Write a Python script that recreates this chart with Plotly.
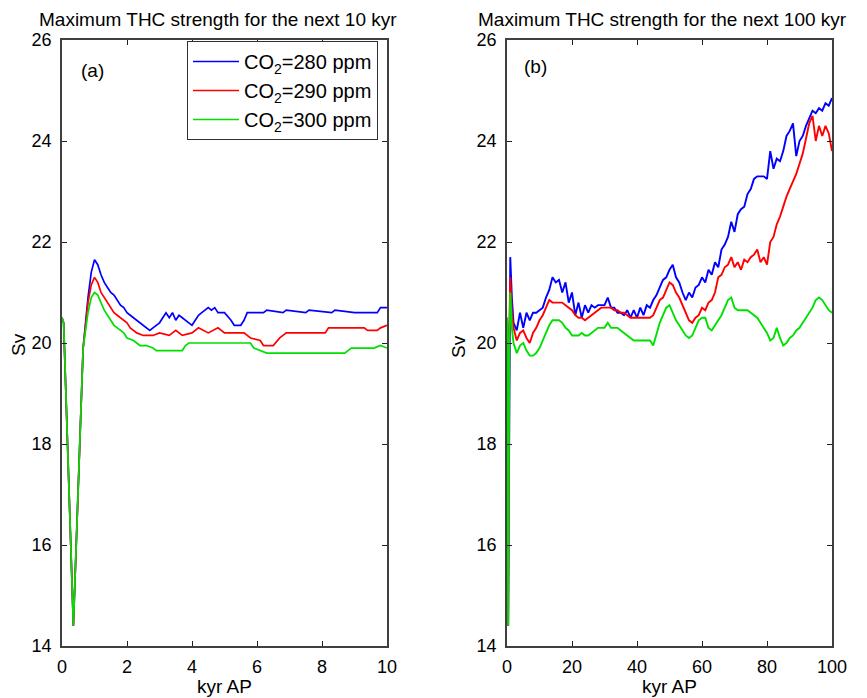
import plotly.graph_objects as go

# ---------------- data ----------------
series_names = ["CO<sub>2</sub>=280 ppm", "CO<sub>2</sub>=290 ppm", "CO<sub>2</sub>=300 ppm"]
series_colors = ["#0000ff", "#ff0000", "#00e000"]

# panel (a): next 10 kyr (breakpoints)
a_blue_x = [0, 0.05, 0.35, 0.65, 0.8, 0.9, 1.0, 1.1, 1.2, 1.3, 1.4, 1.5, 1.6, 1.7, 1.8, 1.9, 2.0,
            2.1, 2.2, 2.3, 2.4, 2.5, 2.6, 2.7, 2.8, 2.9, 3.0, 3.1, 3.2, 3.3, 3.4, 3.5, 3.6, 3.7,
            3.8, 3.9, 4.0, 4.1, 4.2, 4.3, 4.4, 4.5, 4.6, 4.7, 4.8, 4.9, 5.0, 5.2, 5.3, 5.5, 5.6,
            5.7, 6.2, 6.3, 6.8, 6.9, 7.5, 7.6, 8.3, 8.4, 8.9, 9.0, 9.7, 9.8, 10.0]
a_blue_y = [20.5, 20.4, 14.4, 19.9, 20.9, 21.4, 21.65, 21.55, 21.35, 21.2, 21.1, 21.0, 20.95, 20.85,
            20.75, 20.7, 20.6, 20.55, 20.5, 20.45, 20.4, 20.35, 20.3, 20.25, 20.3, 20.35, 20.4, 20.5,
            20.6, 20.5, 20.6, 20.45, 20.55, 20.5, 20.45, 20.4, 20.35, 20.45, 20.55, 20.6, 20.65,
            20.7, 20.65, 20.7, 20.6, 20.6, 20.6, 20.45, 20.35, 20.35, 20.45, 20.6, 20.6, 20.65,
            20.6, 20.65, 20.6, 20.65, 20.6, 20.65, 20.6, 20.6, 20.6, 20.7, 20.7]

a_red_x = [0, 0.05, 0.35, 0.65, 0.8, 0.9, 1.0, 1.1, 1.2, 1.3, 1.4, 1.5, 1.6, 1.7, 1.8, 1.9, 2.0,
           2.1, 2.2, 2.3, 2.5, 2.8, 3.0, 3.3, 3.5, 3.7, 4.0, 4.2, 4.5, 4.8, 5.0, 5.6, 5.8, 6.1,
           6.2, 6.5, 6.7, 6.9, 8.1, 8.2, 9.3, 9.4, 9.7, 9.8, 10.0]
a_red_y = [20.5, 20.4, 14.4, 19.9, 20.8, 21.15, 21.3, 21.2, 21.0, 20.9, 20.8, 20.7, 20.6, 20.55,
           20.5, 20.45, 20.4, 20.3, 20.25, 20.2, 20.15, 20.15, 20.2, 20.15, 20.25, 20.15, 20.2,
           20.3, 20.2, 20.3, 20.2, 20.2, 20.1, 20.05, 19.95, 19.95, 20.1, 20.2, 20.2, 20.3,
           20.3, 20.25, 20.25, 20.3, 20.35]

a_green_x = [0, 0.05, 0.35, 0.65, 0.8, 0.9, 1.0, 1.1, 1.2, 1.3, 1.4, 1.5, 1.6, 1.7, 1.8, 1.9, 2.0,
             2.2, 2.4, 2.6, 2.8, 2.9, 3.7, 3.8, 3.9, 5.8, 5.9, 6.3, 8.7, 8.9, 9.6, 9.8, 10.0]
a_green_y = [20.5, 20.4, 14.4, 19.9, 20.6, 20.9, 21.0, 20.95, 20.8, 20.65, 20.55, 20.45, 20.35,
             20.3, 20.25, 20.2, 20.1, 20.05, 19.95, 19.95, 19.9, 19.85, 19.85, 19.95, 20.0, 20.0,
             19.9, 19.8, 19.8, 19.9, 19.9, 19.95, 19.9]

# panel (b): next 100 kyr
b_x = [0, 0.1, 0.35, 0.7, 1.0, 1.5] + list(range(2, 101))
b_blue_y = [20.5, 20.3, 14.4, 20.3, 21.7, 20.9,
            20.4, 20.25, 20.6, 20.3, 20.6, 20.45, 20.6, 20.6, 20.65, 20.7, 20.9, 21.05, 21.3,
            21.2, 21.25, 21.0, 21.2, 20.8, 21.0, 20.55, 20.8, 20.5, 20.75, 20.6, 20.75, 20.7,
            20.75, 20.75, 20.75, 20.9, 20.7, 20.7, 20.6, 20.6, 20.55, 20.65, 20.5, 20.65, 20.5,
            20.7, 20.55, 20.75, 20.7, 20.85, 20.95, 21.1, 21.25, 21.3, 21.45, 21.55, 21.3, 21.2,
            21.0, 20.85, 21.0, 20.9, 21.1, 21.15, 21.3, 21.2, 21.45, 21.35, 21.6, 21.5, 21.85,
            21.95, 22.1, 22.4, 22.2, 22.55, 22.65, 22.7, 22.95, 23.05, 23.25, 23.3, 23.3, 23.3,
            23.25, 23.8, 23.45, 23.65, 23.6, 23.8, 24.1, 24.2, 24.35, 23.7, 24.0, 24.1, 24.3,
            24.45, 24.6, 24.55, 24.65, 24.6, 24.75, 24.7, 24.85]
b_red_y = [20.5, 20.3, 14.4, 20.2, 21.3, 20.6,
           20.3, 20.05, 20.2, 20.25, 20.1, 20.0, 20.2, 20.3, 20.45, 20.55, 20.7, 20.85, 20.8,
           20.8, 20.8, 20.8, 20.75, 20.7, 20.65, 20.55, 20.5, 20.5, 20.45, 20.5, 20.55, 20.6,
           20.65, 20.7, 20.7, 20.7, 20.7, 20.65, 20.65, 20.6, 20.6, 20.55, 20.5, 20.5, 20.5,
           20.5, 20.5, 20.5, 20.5, 20.55, 20.7, 20.85, 20.9, 21.05, 21.2, 21.15, 21.0, 20.9,
           20.75, 20.6, 20.45, 20.4, 20.5, 20.55, 20.7, 20.65, 20.8, 20.85, 21.0, 21.3, 21.35,
           21.5, 21.55, 21.7, 21.5, 21.6, 21.45, 21.65, 21.6, 21.7, 21.75, 21.85, 21.6, 21.7,
           21.55, 22.0, 22.1, 22.35, 22.5, 22.7, 22.9, 23.05, 23.2, 23.35, 23.55, 23.75, 24.05,
           24.35, 24.5, 24.0, 24.3, 24.1, 24.3, 24.15, 23.8]
b_green_y = [20.5, 20.3, 14.4, 20.0, 21.0, 20.3,
             20.0, 19.8, 19.95, 20.0, 19.85, 19.75, 19.75, 19.8, 19.9, 20.05, 20.2, 20.35, 20.45,
             20.45, 20.45, 20.4, 20.3, 20.25, 20.15, 20.15, 20.15, 20.2, 20.15, 20.15, 20.2,
             20.25, 20.3, 20.3, 20.3, 20.4, 20.3, 20.3, 20.3, 20.25, 20.2, 20.15, 20.1, 20.05,
             20.05, 20.05, 20.05, 20.05, 20.05, 19.95, 20.2, 20.4, 20.55, 20.7, 20.75, 20.6,
             20.45, 20.35, 20.25, 20.15, 20.1, 20.15, 20.3, 20.45, 20.5, 20.5, 20.3, 20.25,
             20.35, 20.45, 20.55, 20.7, 20.85, 20.9, 20.7, 20.65, 20.65, 20.65, 20.65, 20.6,
             20.55, 20.5, 20.4, 20.3, 20.2, 20.05, 20.1, 20.3, 20.1, 19.95, 20.0, 20.1, 20.15,
             20.25, 20.3, 20.4, 20.5, 20.6, 20.7, 20.85, 20.9, 20.85, 20.75, 20.65, 20.6]

titles = ["Maximum THC strength for the next 10 kyr", "Maximum THC strength for the next 100 kyr"]
panel_labels = ["(a)", "(b)"]
x_title = "kyr AP"
y_title = "Sv"

# ---------------- figure ----------------
PAGE_W, PAGE_H = 867, 698
OFF = 8                      # default body margin of the html page
W, H = PAGE_W - OFF, PAGE_H - OFF
FONT = "Liberation Sans, Arial, Helvetica, sans-serif"

def px_x(p):
    return (p - OFF) / W

def px_y(p):
    return 1 - (p - OFF) / H

fig = go.Figure()

a_sets = [(a_blue_x, a_blue_y), (a_red_x, a_red_y), (a_green_x, a_green_y)]
for (xs, ys), name, col in zip(a_sets, series_names, series_colors):
    fig.add_trace(go.Scatter(x=xs, y=ys, mode="lines", name=name,
                             line=dict(color=col, width=1.7),
                             xaxis="x", yaxis="y", showlegend=True))

for ys, name, col in zip([b_blue_y, b_red_y, b_green_y], series_names, series_colors):
    fig.add_trace(go.Scatter(x=b_x, y=ys, mode="lines", name=name,
                             line=dict(color=col, width=1.9),
                             xaxis="x2", yaxis="y2", showlegend=False))

axis_common = dict(showline=True, linecolor="#404040", linewidth=1.5, mirror="ticks",
                   ticks="inside", ticklen=5, tickwidth=1, tickcolor="#202020",
                   showgrid=False, zeroline=False, automargin=False,
                   tickfont=dict(family=FONT, size=18, color="black"))

ydom = [px_y(646), px_y(40)]
fig.update_layout(
    width=W, height=H,
    margin=dict(l=0, r=0, t=0, b=0, autoexpand=False),
    paper_bgcolor="white", plot_bgcolor="white",
    xaxis=dict(domain=[px_x(62), px_x(387)], range=[0, 10], dtick=2, anchor="y",
               ticklabelstandoff=4, **axis_common),
    yaxis=dict(domain=ydom, range=[14, 26], dtick=2, anchor="x",
               ticklabelstandoff=5, **axis_common),
    xaxis2=dict(domain=[px_x(507), px_x(832)], range=[0, 100], dtick=20, anchor="y2",
                ticklabelstandoff=4, **axis_common),
    yaxis2=dict(domain=ydom, range=[14, 26], dtick=2, anchor="x2",
                ticklabelstandoff=5, **axis_common),
    legend=dict(x=px_x(378), y=px_y(41), xanchor="right", yanchor="top",
                bgcolor="white", bordercolor="#303030", borderwidth=1,
                font=dict(family=FONT, size=20, color="black"),
                itemwidth=46, tracegroupgap=0),
    showlegend=True,
)

anns = []
anns.append(dict(text=titles[0], x=px_x(38), y=1.0, xanchor="left", yanchor="top", borderpad=0))
anns.append(dict(text=titles[1], x=px_x(477), y=1.0, xanchor="left", yanchor="top", borderpad=0))
anns.append(dict(text=panel_labels[0], x=px_x(79), y=px_y(70), xanchor="left", yanchor="middle"))
anns.append(dict(text=panel_labels[1], x=px_x(522), y=px_y(66), xanchor="left", yanchor="middle"))
anns.append(dict(text=x_title, x=px_x(224.5), y=px_y(686), xanchor="center", yanchor="middle"))
anns.append(dict(text=x_title, x=px_x(669.5), y=px_y(686), xanchor="center", yanchor="middle"))
anns.append(dict(text=y_title, x=px_x(18), y=px_y(345), xanchor="center", yanchor="middle", textangle=-90))
anns.append(dict(text=y_title, x=px_x(458), y=px_y(347), xanchor="center", yanchor="middle", textangle=-90))
for a in anns:
    a.update(xref="paper", yref="paper", showarrow=False,
             font=dict(family=FONT, size=19, color="black"))
fig.update_layout(annotations=anns)

fig.write_html("out.html")
